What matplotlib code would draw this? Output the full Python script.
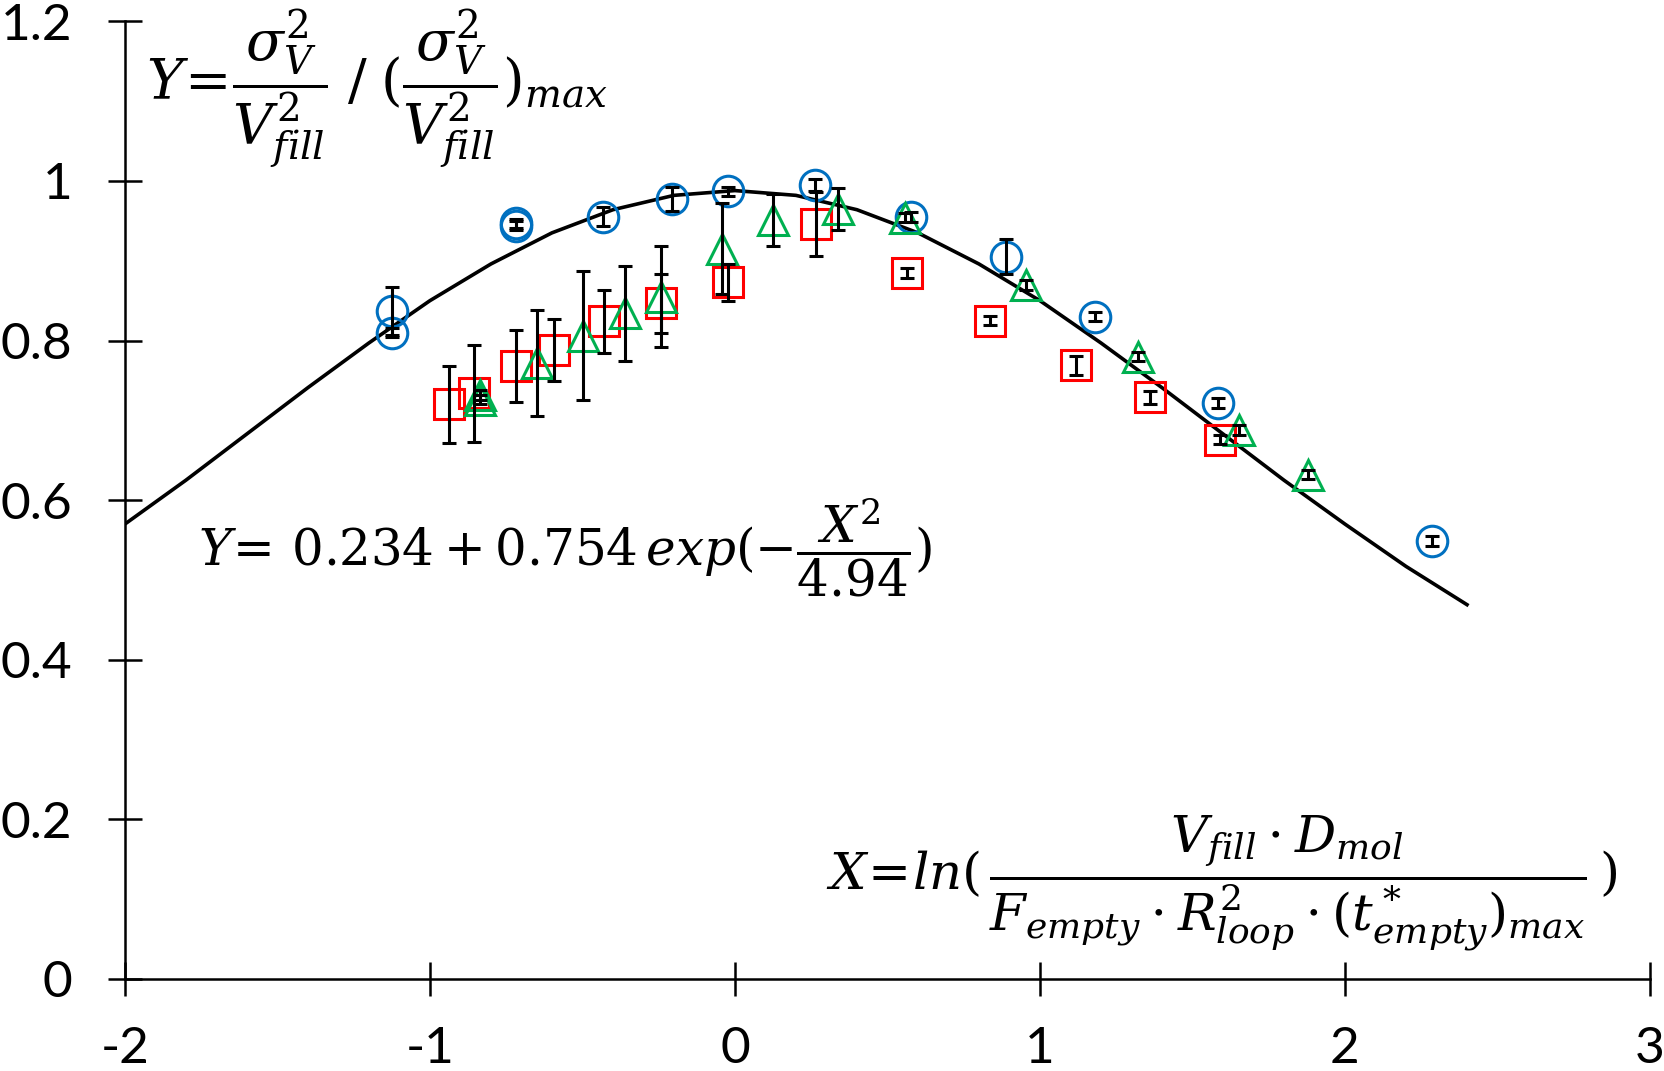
import numpy as np
import matplotlib
matplotlib.use("Agg")
import matplotlib.pyplot as plt

# fitted curve Y = 0.234 + 0.754 exp(-X^2/4.94)
curve_x = [-2.0, -1.8, -1.6, -1.4, -1.2, -1.0, -0.8, -0.6, -0.4, -0.2, 0.0,
           0.2, 0.4, 0.6, 0.8, 1.0, 1.2, 1.4, 1.6, 1.8, 2.0, 2.2, 2.4]
curve_y = [0.570, 0.625, 0.683, 0.741, 0.797, 0.850, 0.896, 0.935, 0.964, 0.982, 0.988,
           0.982, 0.964, 0.935, 0.896, 0.850, 0.797, 0.741, 0.683, 0.625, 0.570, 0.517, 0.469]

# blue circles
circ_x = [-1.125, -1.125, -0.718, -0.718, -0.432, -0.206, -0.024, 0.261, 0.578, 0.889, 1.181, 1.585, 2.286]
circ_y = [0.837, 0.810, 0.947, 0.944, 0.955, 0.977, 0.987, 0.995, 0.955, 0.905, 0.830, 0.722, 0.549]
circ_e = [0.030, 0.006, 0.006, 0.006, 0.012, 0.015, 0.006, 0.008, 0.006, 0.022, 0.006, 0.006, 0.006]

# red squares
sq_x = [-0.937, -0.854, -0.718, -0.592, -0.429, -0.244, -0.024, 0.265, 0.564, 0.836, 1.118, 1.362, 1.589]
sq_y = [0.720, 0.734, 0.768, 0.788, 0.824, 0.847, 0.873, 0.946, 0.885, 0.825, 0.769, 0.729, 0.676]
sq_e = [0.048, 0.061, 0.045, 0.039, 0.039, 0.037, 0.023, 0.040, 0.006, 0.006, 0.012, 0.008, 0.006]

# green triangles
tri_x = [-0.836, -0.836, -0.648, -0.498, -0.359, -0.244, -0.042, 0.125, 0.338, 0.557, 0.955, 1.321, 1.652, 1.878]
tri_y = [0.732, 0.726, 0.772, 0.806, 0.834, 0.855, 0.915, 0.951, 0.965, 0.954, 0.870, 0.780, 0.688, 0.632]
tri_e = [0.006, 0.006, 0.066, 0.081, 0.060, 0.063, 0.057, 0.033, 0.026, 0.006, 0.006, 0.006, 0.006, 0.006]

plt.rcParams['font.family'] = ['Lato', 'DejaVu Sans']
plt.rcParams['mathtext.fontset'] = 'dejavuserif'

fig = plt.figure(figsize=(16.65, 10.71), dpi=100)
ax = fig.add_axes([0.075, 0.086, 0.916, 0.894])

ax.plot(curve_x, curve_y, color='black', lw=2.6, zorder=2)

mk = dict(linestyle='none', markerfacecolor='none', markeredgewidth=2.2, zorder=3)
ax.plot(circ_x, circ_y, marker='o', markersize=22, markeredgecolor='#0070C0', **mk)
ax.plot(sq_x, sq_y, marker='s', markersize=21, markeredgecolor='#FF0000', **mk)
ax.plot(tri_x, tri_y, marker='^', markersize=22, markeredgecolor='#00B050', **mk)

eb = dict(fmt='none', ecolor='black', elinewidth=2.2, capsize=5, capthick=2.2, zorder=4)
ax.errorbar(circ_x, circ_y, yerr=circ_e, **eb)
ax.errorbar(sq_x, sq_y, yerr=sq_e, **eb)
ax.errorbar(tri_x, tri_y, yerr=tri_e, **eb)

ax.set_xlim(-2, 3)
ax.set_ylim(0, 1.2)
ax.set_xticks([-2, -1, 0, 1, 2, 3])
ax.set_xticklabels(['-2', '-1', '0', '1', '2', '3'])
ax.set_yticks([0, 0.2, 0.4, 0.6, 0.8, 1.0, 1.2])
ax.set_yticklabels(['0', '0.2', '0.4', '0.6', '0.8', '1', '1.2'])

for s in ['top', 'right']:
    ax.spines[s].set_visible(False)
for s in ['left', 'bottom']:
    ax.spines[s].set_linewidth(1.8)
ax.tick_params(direction='inout', length=24, width=1.8, labelsize=37)
ax.tick_params(axis='y', pad=26)
ax.tick_params(axis='x', pad=22)

ax.text(-1.93, 1.115, r'$Y\!=\!\dfrac{\sigma_V^2}{V_{fill}^2}\;/\;(\dfrac{\sigma_V^2}{V_{fill}^2})_{max}$',
        fontsize=40, va='center', ha='left')
ax.text(-1.76, 0.54, r'$Y\!=\,0.234+0.754\,exp(-\dfrac{X^2}{4.94})$',
        fontsize=36, va='center', ha='left')
ax.text(0.3, 0.12, r'$X\!=\!ln(\,\dfrac{V_{fill}\cdot D_{mol}}{F_{empty}\cdot R_{loop}^2\cdot(t_{empty}^*)_{max}}\,)$',
        fontsize=37, va='center', ha='left')

fig.savefig('out.png', dpi=100)
